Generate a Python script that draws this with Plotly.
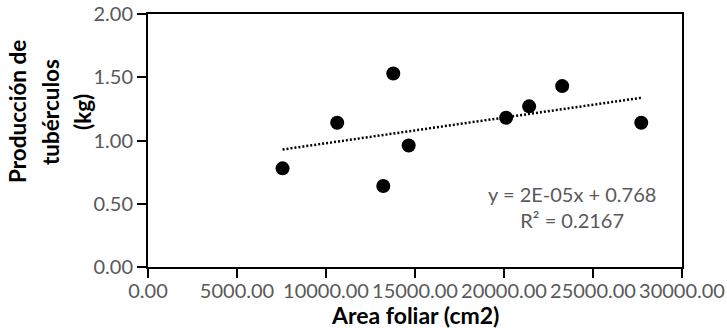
import numpy as np
import plotly.graph_objects as go

# Leaf area (cm2) and tuber yield (kg) per plant
area_foliar = [7559, 10630, 13217, 13780, 14645, 20118, 21412, 23268, 27711]
produccion = [0.78, 1.14, 0.64, 1.53, 0.96, 1.18, 1.27, 1.43, 1.14]

x_ticks = [0, 5000, 10000, 15000, 20000, 25000, 30000]
y_ticks = [0, 0.5, 1.0, 1.5, 2.0]

eq_lines = ["y = 2E-05x + 0.768", "R² = 0.2167"]
y_title_lines = ["Producción de", "tubérculos", "(kg)"]
x_title = "Area foliar (cm2)"

FONT = "Lato"
GRAY = "#595959"

# Linear least-squares trend over the observed range
slope, intercept = np.polyfit(area_foliar, produccion, 1)
trend_x = [min(area_foliar), max(area_foliar)]
trend_y = [slope * v + intercept for v in trend_x]

fig = go.Figure()
fig.add_trace(go.Scatter(
    x=trend_x, y=trend_y, mode="lines",
    line=dict(color="black", width=2.5, dash="2px,2px"),
    hoverinfo="skip", showlegend=False,
))
fig.add_trace(go.Scatter(
    x=area_foliar, y=produccion, mode="markers",
    marker=dict(color="black", size=14, line=dict(width=0)),
    showlegend=False,
))

axis_common = dict(
    showline=True, linecolor="black", linewidth=2, mirror=True,
    ticks="outside", ticklen=9, tickwidth=2, tickcolor="black",
    showgrid=False, zeroline=False, tickformat=".2f",
    tickfont=dict(family=FONT, size=20, color=GRAY),
    automargin=False, ticklabeloverflow="allow",
)

fig.update_xaxes(range=[0, 30000], tickvals=x_ticks, tickangle=0,
                 ticklabelstandoff=-4, **axis_common)
fig.update_yaxes(range=[0, 2], tickvals=y_ticks, **axis_common)

annotations = [
    dict(text="<br>".join(eq_lines), xref="paper", yref="paper",
         x=(572 - 148) / 534, y=(267 - 206.5) / 253, xanchor="center", yanchor="middle",
         showarrow=False, font=dict(family=FONT, size=20, color=GRAY)),
    dict(text="<b>" + x_title + "</b>", xref="paper", yref="paper",
         x=0.5, y=0, yshift=-48, xanchor="center", yanchor="middle",
         showarrow=False, font=dict(family=FONT, size=23, color="black")),
]
for line, cx in zip(y_title_lines, [17, 50, 82]):
    annotations.append(dict(
        text="<b>" + line + "</b>", xref="paper", yref="paper",
        x=0, xshift=cx - 148, y=(267 - 112) / 253,
        xanchor="center", yanchor="middle", textangle=-90,
        showarrow=False, font=dict(family=FONT, size=22.5, color="black"),
    ))

fig.update_layout(
    width=727, height=328,
    margin=dict(l=148, r=45, t=14, b=61),
    paper_bgcolor="white", plot_bgcolor="white",
    annotations=annotations,
)

fig.write_html("out.html")
